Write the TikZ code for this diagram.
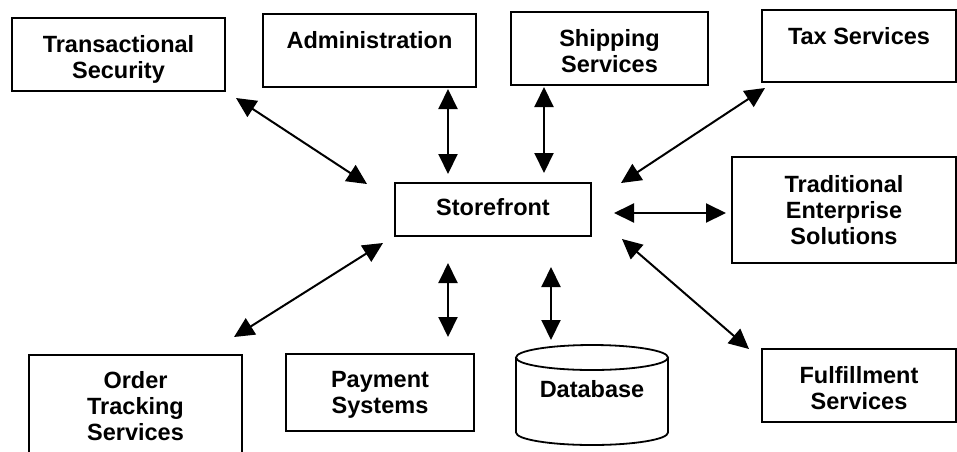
\documentclass[tikz,border=0pt]{standalone}
\usepackage{fontspec}
\setmainfont{Liberation Sans}
\usetikzlibrary{arrows.meta,positioning,calc}
\tikzset{
  % Plain box around one component.
  arch/box/.style={draw=black, fill=white, line width=1.8pt, inner sep=0pt, outer sep=0pt},
  % Component name, hung from the top of its box.
  arch/name/.style={font=\fontsize{23.5}{26}\selectfont\bfseries, align=center, inner sep=0pt},
  % Two-way link to the storefront.
  arch/link/.style={{Triangle[length=20pt,width=19pt]}-{Triangle[length=20pt,width=19pt]},
    line width=2pt, draw=black},
}

\begin{document}
\begin{tikzpicture}[x=1pt, y=-1pt,
  db/.style={minimum width=152pt, minimum height=100pt, inner sep=0pt, outer sep=0pt},
  cyl/.style={line width=1.8pt, draw=black}]
\clip (0,0) rectangle (957,451);

% top row
\node[arch/box, minimum width=213pt, minimum height=73pt] (trans) at (118.5,54.5) {};
\node[arch/name, below=17pt of trans.north] (transN) {Transactional\\Security};
\node[arch/box, minimum width=213pt, minimum height=73pt] (admin) at (369.5,50.5) {};
\node[arch/name, below=17pt of admin.north] (adminN) {Administration};
\node[arch/box, minimum width=197pt, minimum height=73pt] (ship) at (609.5,48.5) {};
\node[arch/name, below=17pt of ship.north] (shipN) {Shipping\\Services};
\node[arch/box, minimum width=194pt, minimum height=72pt] (tax) at (859,46) {};
\node[arch/name, below=17pt of tax.north] (taxN) {Tax Services};

% middle
\node[arch/box, arch/name, minimum width=196pt, minimum height=53pt, text depth=6pt]
     (store) at (493,209.5) {Storefront};
\node[arch/box, minimum width=224pt, minimum height=106pt] (trad) at (844,210) {};
\node[arch/name, below=18pt of trad.north] (tradN) {Traditional\\Enterprise\\Solutions};

% bottom row
\node[arch/box, minimum width=213pt, minimum height=110pt] (order) at (135.5,410) {};
\node[arch/name, below=16pt of order.north] (orderN) {Order\\Tracking\\Services};
\node[arch/box, minimum width=188pt, minimum height=77pt] (pay) at (380,392.5) {};
\node[arch/name, below=17pt of pay.north] (payN) {Payment\\Systems};
\node[db] (db) at (592,395) {};
\draw[cyl, fill=white] ($(db.north west)+(0,12.5)$) -- ($(db.south west)+(0,-12.5)$)
  arc[start angle=180, end angle=0, x radius=76, y radius=12.5]
  -- ($(db.north east)+(0,12.5)$);
\draw[cyl] ($(db.north)+(0,12.5)$) ellipse[x radius=76, y radius=12.5];
\node[arch/name, below=35pt of db.north] (dbN) {Database};
\node[arch/box, minimum width=194pt, minimum height=73pt] (fulfil) at (859,385.5) {};
\node[arch/name, below=17pt of fulfil.north] (fulfilN) {Fulfillment\\Services};

% links
\draw[arch/link] ($(trans.south east)+(11,7)$) -- ($(store.north west)+(-28,1)$);
\draw[arch/link] ($(admin.south east)+(-28,2)$) -- ($(store.north west)+(53,-9)$);
\draw[arch/link] ($(ship.south west)+(33,2)$) -- ($(store.north east)+(-47,-10)$);
\draw[arch/link] ($(tax.south west)+(3,6)$) -- ($(store.north east)+(30,0)$);
\draw[arch/link] ($(store.east)+(23,3.5)$) -- ($(trad.west)+(-6,3)$);
\draw[arch/link] ($(store.south east)+(31,3)$) -- ($(fulfil.north west)+(-13,0)$);
\draw[arch/link] ($(store.south east)+(-40,31)$) -- ($(db.north)+(-41,-5)$);
\draw[arch/link] ($(store.south west)+(53,27)$) -- ($(pay.north east)+(-26,-17)$);
\draw[arch/link] ($(store.south west)+(-12,7)$) -- ($(order.north east)+(-8,-18)$);
\end{tikzpicture}
\end{document}
